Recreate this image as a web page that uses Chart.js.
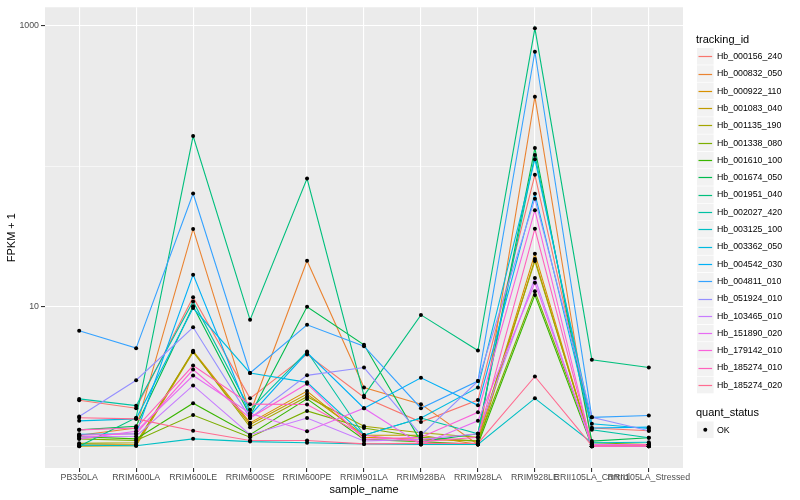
<!DOCTYPE html>
<html>
<head>
<meta charset="utf-8">
<script src="https://cdn.jsdelivr.net/npm/chart.js@4.4.1/dist/chart.umd.min.js"></script>
<style>
  html, body { margin: 0; padding: 0; background: #ffffff; }
  #wrap { width: 800px; height: 500px; }
</style>
</head>
<body>
<div id="wrap"><canvas id="chart" width="800" height="500"></canvas></div>
<script>
const categories = ['PB350LA', 'RRIM600LA', 'RRIM600LE', 'RRIM600SE', 'RRIM600PE', 'RRIM901LA',
    'RRIM928BA', 'RRIM928LA', 'RRIM928LE', 'RRII105LA_Control', 'RRII105LA_Stressed'];

const trackingIds = ['Hb_000156_240', 'Hb_000832_050', 'Hb_000922_110', 'Hb_001083_040', 'Hb_001135_190',
    'Hb_001338_080', 'Hb_001610_100', 'Hb_001674_050', 'Hb_001951_040', 'Hb_002027_420',
    'Hb_003125_100', 'Hb_003362_050', 'Hb_004542_030', 'Hb_004811_010', 'Hb_051924_010',
    'Hb_103465_010', 'Hb_151890_020', 'Hb_179142_010', 'Hb_185274_010', 'Hb_185274_020'];

// FPKM + 1, one array per gene, in category order
const hb000156_240 = [2.13, 1.87, 11.6, 2.2, 4.53, 2.24, 1.49, 2.14, 86.7, 1.35, 1.29];
const hb000832_050 = [1.2, 1.35, 35.6, 1.72, 21.1, 2.63, 2.0, 1.03, 313, 1.03, 1.03];
const hb000922_110 = [1.02, 1.03, 4.8, 1.47, 2.48, 1.16, 1.12, 1.09, 23.7, 1.0, 1.0];
const hb001083_040 = [1.0, 1.01, 4.7, 1.43, 2.36, 1.2, 1.2, 1.03, 21.7, 1.0, 1.0];
const hb001135_190 = [1.05, 1.06, 4.75, 1.37, 2.26, 1.39, 1.25, 1.16, 21.0, 1.03, 1.03];
const hb001338_080 = [1.13, 1.1, 1.67, 1.16, 1.79, 1.35, 1.16, 1.09, 12.8, 1.06, 1.03];
const hb001610_100 = [1.17, 1.13, 2.03, 1.21, 2.18, 1.12, 1.08, 1.03, 12.0, 1.0, 1.0];
const hb001674_050 = [1.31, 1.39, 10.0, 1.66, 9.9, 5.3, 1.08, 1.23, 134.5, 1.09, 1.15];
const hb001951_040 = [1.0, 1.6, 164, 7.99, 81.6, 2.3, 8.67, 4.83, 963, 4.15, 3.65];
const hb002027_420 = [2.18, 1.95, 10.8, 1.82, 4.75, 1.2, 1.59, 1.23, 120, 1.31, 1.15];
const hb003125_100 = [1.02, 1.01, 1.13, 1.08, 1.06, 1.04, 1.03, 1.03, 2.2, 1.06, 1.07];
const hb003362_050 = [1.52, 1.57, 9.7, 3.34, 2.86, 1.2, 1.59, 2.63, 112, 1.45, 1.34];
const hb004542_030 = [1.22, 1.23, 16.8, 1.66, 4.66, 1.87, 3.08, 1.96, 63.6, 1.35, 1.37];
const hb004811_010 = [6.68, 5.02, 63.8, 3.34, 7.37, 5.18, 1.87, 2.92, 655, 1.61, 1.66];
const hb051924_010 = [1.63, 2.96, 7.07, 1.59, 3.21, 3.65, 1.2, 2.92, 58.6, 1.61, 1.29];
const hb103465_010 = [1.17, 1.18, 2.72, 1.21, 1.59, 1.09, 1.12, 1.23, 15.9, 1.0, 1.0];
const hb151890_020 = [1.13, 1.28, 3.2, 1.72, 1.28, 1.87, 1.03, 1.52, 14.7, 1.03, 1.03];
const hb179142_010 = [1.2, 1.23, 3.53, 1.59, 2.8, 1.12, 1.16, 1.75, 48.5, 1.0, 1.0];
const hb185274_010 = [1.31, 1.35, 3.77, 2.0, 1.99, 1.2, 1.08, 1.16, 35.7, 1.0, 1.03];
const hb185274_020 = [1.6, 1.57, 1.29, 1.1, 1.1, 1.04, 1.05, 1.05, 3.15, 1.01, 1.01];

const seriesValues = [hb000156_240, hb000832_050, hb000922_110, hb001083_040, hb001135_190,
    hb001338_080, hb001610_100, hb001674_050, hb001951_040, hb002027_420,
    hb003125_100, hb003362_050, hb004542_030, hb004811_010, hb051924_010,
    hb103465_010, hb151890_020, hb179142_010, hb185274_010, hb185274_020];

const yTicks = [1, 10, 100, 1000];
const yLabelled = [10, 1000];

// ggplot default hue palette, 20 levels
const seriesColors = ['#F8766D', '#EA8331', '#D89000', '#C09B00', '#A3A500', '#7CAE00', '#39B600',
    '#00BB4E', '#00BF7D', '#00C1A3', '#00BFC4', '#00BAE0', '#00B0F6', '#35A2FF', '#9590FF',
    '#C77CFF', '#E76BF3', '#FA62DB', '#FF62BC', '#FF6C91'];

const FONT = '"Liberation Sans", Arial, Helvetica, sans-serif';

const lineSets = seriesValues.map((vals, i) => ({
    label: trackingIds[i],
    data: vals.map((v, j) => ({ x: j, y: v })),
    borderColor: seriesColors[i],
    backgroundColor: seriesColors[i],
    borderWidth: 1.1,
    pointRadius: 0,
    fill: false,
    tension: 0,
    order: seriesValues.length - i
}));

const pointSet = {
    label: 'OK',
    type: 'scatter',
    data: seriesValues.flatMap(vals => vals.map((v, j) => ({ x: j, y: v }))),
    backgroundColor: '#000000',
    borderColor: '#000000',
    pointRadius: 2,
    pointBorderWidth: 0,
    showLine: false,
    order: -1
};

const panelPlugin = {
    id: 'panel',
    beforeDraw(chart) {
        const { ctx, chartArea } = chart;
        ctx.save();
        ctx.fillStyle = '#EBEBEB';
        ctx.fillRect(chartArea.left, chartArea.top, chartArea.right - chartArea.left, chartArea.bottom - chartArea.top);
        ctx.restore();
    }
};

const legendPlugin = {
    id: 'ggLegend',
    afterDraw(chart) {
        const { ctx } = chart;
        const x0 = 697;
        const rowH = 17.3;
        let y = 48;
        ctx.save();
        ctx.textBaseline = 'middle';
        ctx.textAlign = 'left';

        ctx.fillStyle = '#000000';
        ctx.font = '11px ' + FONT;
        ctx.fillText('tracking_id', 696, 40);

        ctx.font = '8.8px ' + FONT;
        trackingIds.forEach((id, i) => {
            ctx.fillStyle = '#F2F2F2';
            ctx.fillRect(x0, y, 16.6, 16.6);
            const ly = Math.round(y + 8.3) + 0.5;
            ctx.strokeStyle = seriesColors[i];
            ctx.lineWidth = 1.2;
            ctx.beginPath();
            ctx.moveTo(x0 + 1.5, ly);
            ctx.lineTo(x0 + 15.1, ly);
            ctx.stroke();
            ctx.fillStyle = '#000000';
            ctx.fillText(id, 717, y + 8.6);
            y += rowH;
        });

        ctx.font = '11px ' + FONT;
        ctx.fillText('quant_status', 696, 413);
        ctx.fillStyle = '#F2F2F2';
        ctx.fillRect(x0, 421.5, 16.6, 16.6);
        ctx.fillStyle = '#000000';
        ctx.beginPath();
        ctx.arc(x0 + 8.3, 429.8, 2, 0, Math.PI * 2);
        ctx.fill();
        ctx.font = '8.8px ' + FONT;
        ctx.fillText('OK', 717, 430.2);
        ctx.restore();
    }
};

new Chart(document.getElementById('chart').getContext('2d'), {
    type: 'line',
    data: { datasets: [pointSet, ...lineSets] },
    options: {
        responsive: false,
        animation: false,
        devicePixelRatio: 1,
        layout: { padding: { left: 0, top: 5, right: 117, bottom: 0 } },
        scales: {
            x: {
                type: 'linear',
                min: -0.6,
                max: categories.length - 1 + 0.6,
                afterBuildTicks(scale) {
                    scale.ticks = categories.map((c, i) => ({ value: i }));
                },
                afterFit(scale) { scale.height = 32; },
                ticks: {
                    autoSkip: false,
                    maxRotation: 0,
                    minRotation: 0,
                    padding: 0,
                    color: '#4D4D4D',
                    font: { family: FONT, size: 8.8 },
                    callback: (v) => categories[v]
                },
                grid: {
                    color: '#FFFFFF',
                    lineWidth: 1.1,
                    tickColor: '#333333',
                    tickLength: 4,
                    drawTicks: true
                },
                border: { display: false },
                title: {
                    display: true,
                    text: 'sample_name',
                    color: '#000000',
                    font: { family: FONT, size: 11 },
                    padding: { top: 0, bottom: 3 }
                }
            },
            y: {
                type: 'logarithmic',
                min: 0.728,
                max: 1361,
                afterBuildTicks(scale) {
                    scale.ticks = yTicks.map(v => ({ value: v }));
                },
                afterFit(scale) { scale.width = 45; },
                ticks: {
                    padding: 2,
                    color: '#4D4D4D',
                    font: { family: FONT, size: 8.8 },
                    callback: (v) => yLabelled.includes(v) ? String(v) : ''
                },
                grid: {
                    color: '#FFFFFF',
                    lineWidth: (c) => (c.tick && yLabelled.includes(c.tick.value)) ? 1.1 : 0.55,
                    tickColor: (c) => (c.tick && yLabelled.includes(c.tick.value)) ? '#333333' : 'rgba(0,0,0,0)',
                    tickLength: 4
                },
                border: { display: false },
                title: {
                    display: true,
                    text: 'FPKM + 1',
                    color: '#000000',
                    font: { family: FONT, size: 11 },
                    padding: { top: 5, bottom: 0 }
                }
            }
        },
        plugins: {
            legend: { display: false },
            tooltip: { enabled: false }
        }
    },
    plugins: [panelPlugin, legendPlugin]
});
</script>
</body>
</html>
